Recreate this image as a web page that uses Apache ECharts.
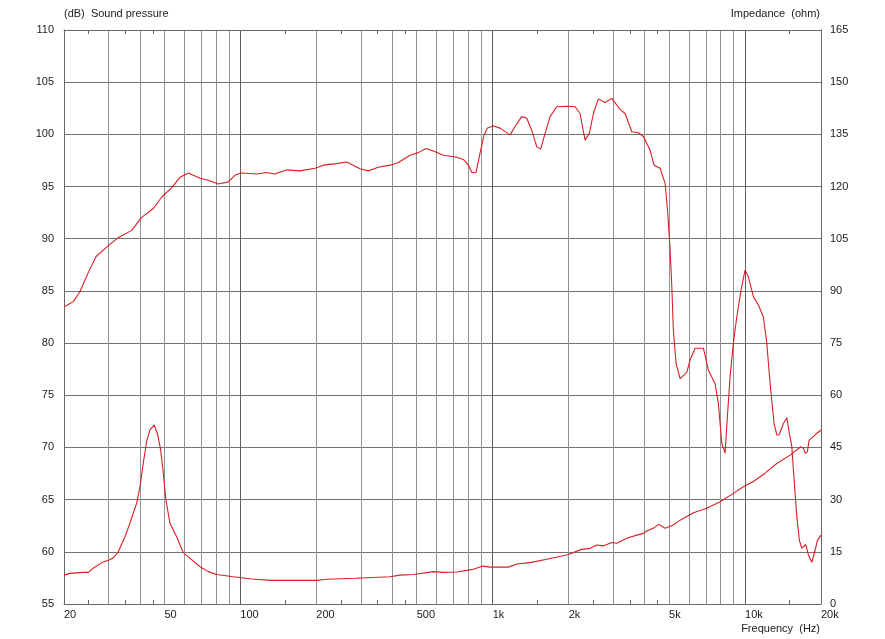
<!DOCTYPE html>
<html>
<head>
<meta charset="utf-8">
<title>Sound pressure / Impedance</title>
<script src="https://cdn.jsdelivr.net/npm/echarts@6/dist/echarts.min.js"></script>
<style>
    html, body { margin: 0; padding: 0; background: #fff; }
    #chart { width: 885px; height: 639px; }
</style>
</head>
<body>
<div id="chart"></div>
<script>
// frequency (Hz) / sound pressure (dB)
const splFreq = [20, 20.5, 21.8, 23.1, 25.0, 26.8, 29.5, 32.8, 37.1, 40.6,
    45.2, 48.8, 53.5, 57.7, 62.2, 69.2, 74.6, 81.8, 89.6, 95.3,
    101, 116, 127, 137, 153, 172, 198, 213, 241, 264,
    280, 298, 321, 352, 392, 423, 470, 507, 544, 582,
    637, 720, 765, 801, 826, 859, 891, 924, 953, 1006,
    1069, 1172, 1226, 1303, 1364, 1428, 1495, 1550, 1613, 1688,
    1794, 1965, 2120, 2218, 2323, 2416, 2506, 2622, 2789, 2964,
    3196, 3346, 3558, 3778, 3954, 4204, 4360, 4606, 4690, 4822,
    4942, 5046, 5125, 5199, 5330, 5529, 5878, 6058, 6340, 6842,
    7159, 7608, 7840, 8088, 8336, 8512, 8724, 8990, 9272, 9644,
    10004, 10308, 10792, 11296, 11822, 12194, 12570, 13036, 13360, 13644,
    14192, 14638, 14988, 15320, 15648, 16038, 16422, 16786, 17408, 17826,
    18388, 18950, 19352, 20000];
const splDb = [83.5, 83.6, 84.0, 84.9, 86.8, 88.3, 89.2, 90.1, 90.8, 92.05,
    92.9, 94.0, 94.9, 95.9, 96.3, 95.8, 95.6, 95.25, 95.45, 96.1,
    96.3, 96.2, 96.35, 96.2, 96.6, 96.5, 96.75, 97.05, 97.2, 97.35,
    97.05, 96.7, 96.5, 96.85, 97.05, 97.3, 98.0, 98.25, 98.65, 98.4,
    98.0, 97.8, 97.6, 97.05, 96.35, 96.35, 98.2, 99.95, 100.6, 100.8,
    100.6, 99.95, 100.75, 101.7, 101.55, 100.4, 98.8, 98.6, 100.1, 101.7,
    102.65, 102.7, 102.65, 102.0, 99.45, 100.1, 102.0, 103.4, 103.05, 103.45,
    102.4, 102.0, 100.25, 100.15, 99.8, 98.5, 97.05, 96.75, 96.75, 95.3,
    92.4, 89.0, 85.5, 81.25, 78.05, 76.6, 77.2, 78.4, 79.5, 79.5,
    77.4, 76.1, 74.2, 70.4, 69.45, 72.95, 76.8, 80.0, 82.5, 85.1,
    87.0, 86.35, 84.45, 83.65, 82.5, 80.0, 76.1, 72.3, 71.2, 71.2,
    72.3, 72.85, 71.35, 70.1, 66.9, 63.4, 61.1, 60.35, 60.7, 59.7,
    59.0, 60.15, 61.1, 61.6];

// frequency (Hz) / impedance (ohm)
const impFreq = [20, 21.1, 23.9, 25, 26.1, 28.2, 30, 31.4, 32.8, 34.9,
    36.5, 38.8, 40, 41.2, 42.5, 43.8, 45.5, 46.9, 48.3, 49.5,
    50.7, 52.6, 55.9, 59.4, 63.2, 69.2, 74.6, 80.6, 93.8, 111,
    131, 201, 220, 285, 392, 429, 485, 582, 637, 720,
    813, 838, 913, 976, 1154, 1246, 1406, 1638, 1965, 2254,
    2432, 2585, 2744, 2964, 3102, 3399, 3724, 3954, 4078, 4360,
    4534, 4822, 5199, 5529, 6243, 7052, 7964, 8990, 9850, 10792,
    12004, 13360, 15088, 16632, 17032, 17329, 17666, 17940, 18660, 19246, 20000];
const impOhm = [8.3, 8.8, 9.1, 9.1, 10.3, 11.9, 12.6, 13.3, 15.0, 19.35,
    23.2, 28.95, 33.7, 40.4, 46.65, 50.0, 51.45, 49.1, 44.3, 37.6,
    29.9, 23.2, 19.35, 14.75, 13.1, 10.7, 9.3, 8.5, 7.85, 7.2,
    6.8, 6.8, 7.1, 7.4, 7.85, 8.3, 8.5, 9.3, 9.1, 9.2,
    9.8, 10.0, 10.9, 10.6, 10.6, 11.5, 11.9, 12.85, 14.1, 15.7,
    16.0, 16.95, 16.7, 17.7, 17.45, 18.9, 19.8, 20.3, 21.0, 21.9,
    22.9, 21.8, 22.7, 24.1, 26.25, 27.5, 29.4, 31.8, 33.7, 35.2,
    37.6, 40.4, 42.8, 45.2, 44.75, 43.3, 43.8, 47.1, 48.1, 49.1, 50.0];

// x axis ticks (Hz)
const xLabels = [20, 50, 100, 200, 500, 1000, 2000, 5000, 10000, 20000];
const xGrid = [20, 30, 40, 50, 60, 70, 80, 90,
    100, 200, 300, 400, 500, 600, 700, 800, 900,
    1000, 2000, 3000, 4000, 5000, 6000, 7000, 8000, 9000,
    10000, 20000];
const xDecades = [100, 1000, 10000];
const xMinor = [25, 35, 45, 150, 250, 350, 450, 1500, 2500, 3500, 4500, 15000];

const lg = (v) => Math.log10(v);
const xMin = lg(20);
const xMax = lg(20000);

const font = "'Liberation Sans', Arial, sans-serif";
const textColor = "#1a1a1a";
const lineColor = "#d81e26";

let chart = echarts.init(document.getElementById("chart"), null, { renderer: "canvas" });

function freqLabel(v) {
    let f = Math.round(Math.pow(10, v));
    return f >= 1000 ? f / 1000 + "k" : String(f);
}

function baseX(extra) {
    return Object.assign({
        type: "value",
        min: xMin,
        max: xMax,
        gridIndex: 0,
        axisLine: { show: false },
        axisTick: { show: false },
        axisLabel: { show: false },
        splitLine: { show: false },
    }, extra);
}

let option = {
    animation: false,
    backgroundColor: "#fff",
    title: [
        {
            text: "(dB)  Sound pressure",
            left: 64, top: 8, padding: 0,
            textStyle: { fontFamily: font, fontSize: 11, fontWeight: "normal", color: textColor },
        },
        {
            text: "Impedance  (ohm)",
            right: 65, top: 8, padding: 0,
            textStyle: { fontFamily: font, fontSize: 11, fontWeight: "normal", color: textColor },
        },
        {
            text: "Frequency  (Hz)",
            right: 65, top: 623, padding: 0,
            textStyle: { fontFamily: font, fontSize: 11, fontWeight: "normal", color: textColor },
        },
    ],
    grid: {
        left: 64,
        right: 64,
        top: 30,
        bottom: 35,
        containLabel: false,
    },
    xAxis: [
        // main axis: labels, light grid lines, bottom frame
        baseX({
            position: "bottom",
            axisLine: { show: true, lineStyle: { color: "#666", width: 1 } },
            axisTick: { show: false, customValues: xGrid.map(lg) },
            axisLabel: {
                show: true,
                customValues: xLabels.map(lg),
                formatter: freqLabel,
                align: "left",
                margin: 5,
                fontFamily: font,
                fontSize: 11,
                color: textColor,
            },
            splitLine: { show: true, lineStyle: { color: "#929292", width: 1 } },
        }),
        // darker decade lines
        baseX({
            position: "bottom",
            axisTick: { show: false, customValues: xDecades.map(lg) },
            splitLine: { show: true, lineStyle: { color: "#5e5e5e", width: 1 } },
        }),
        // small ticks, bottom
        baseX({
            position: "bottom",
            axisTick: {
                show: true, inside: true, length: 4,
                customValues: xMinor.map(lg),
                lineStyle: { color: "#666", width: 1 },
            },
        }),
        // small ticks + frame, top
        baseX({
            position: "top",
            axisLine: { show: true, lineStyle: { color: "#666", width: 1 } },
            axisTick: {
                show: true, inside: true, length: 4,
                customValues: xMinor.map(lg),
                lineStyle: { color: "#666", width: 1 },
            },
        }),
    ],
    yAxis: [
        {
            type: "value",
            position: "left",
            min: 55,
            max: 110,
            interval: 5,
            axisLine: { show: true, lineStyle: { color: "#666", width: 1 } },
            axisTick: { show: false },
            axisLabel: { margin: 10, fontFamily: font, fontSize: 11, color: textColor },
            splitLine: { show: true, lineStyle: { color: "#727272", width: 1 } },
        },
        {
            type: "value",
            position: "right",
            min: 0,
            max: 165,
            interval: 15,
            axisLine: { show: true, lineStyle: { color: "#666", width: 1 } },
            axisTick: { show: false },
            axisLabel: { margin: 9, fontFamily: font, fontSize: 11, color: textColor },
            splitLine: { show: false },
        },
    ],
    series: [
        {
            name: "Sound pressure",
            type: "line",
            xAxisIndex: 0,
            yAxisIndex: 0,
            showSymbol: false,
            smooth: false,
            lineStyle: { color: lineColor, width: 1.1 },
            data: splFreq.map((f, i) => [lg(f), splDb[i]]),
            z: 5,
        },
        {
            name: "Impedance",
            type: "line",
            xAxisIndex: 0,
            yAxisIndex: 1,
            showSymbol: false,
            smooth: false,
            lineStyle: { color: lineColor, width: 1.1 },
            data: impFreq.map((f, i) => [lg(f), impOhm[i]]),
            z: 5,
        },
    ],
};

chart.setOption(option);
</script>
</body>
</html>
